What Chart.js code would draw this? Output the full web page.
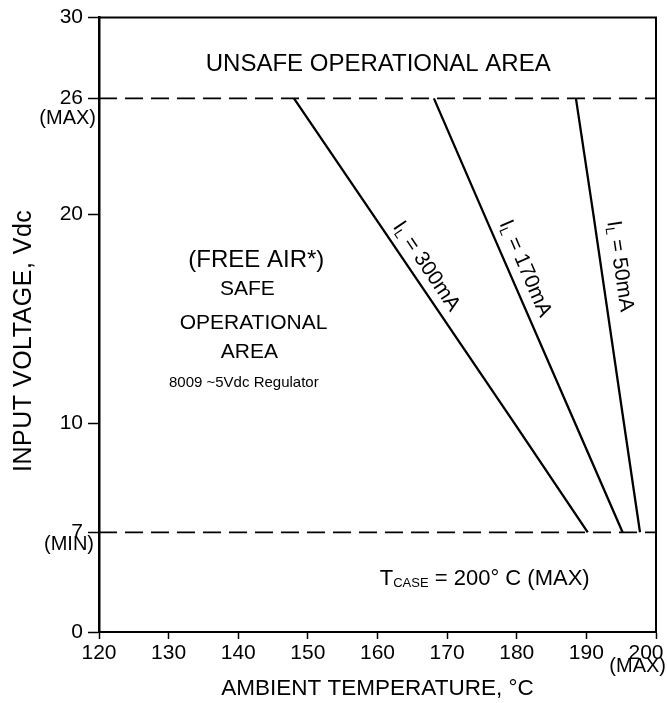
<!DOCTYPE html>
<html>
<head>
<meta charset="utf-8">
<script src="https://cdn.jsdelivr.net/npm/chart.js@4.4.1/dist/chart.umd.min.js"></script>
<style>
  html, body { margin: 0; padding: 0; background: #fff; }
</style>
</head>
<body>
<canvas id="soaChart" width="667" height="703"></canvas>
<script>
const X_TICKS = [120, 130, 140, 150, 160, 170, 180, 190, 200];
const Y_TICKS = [0, 7, 10, 20, 26, 30];
const V_MAX = 26;
const V_MIN = 7;

// ambient temp where each load line crosses 26, 20, 10 and 7 V
const CURVE_VOLTS = [26, 20, 10, 7];
const TEMP_300MA = [148.0, 159.3, 179.7, 190.2];
const TEMP_170MA = [168.1, 175.3, 188.4, 195.2];
const TEMP_50MA = [188.5, 191.0, 195.4, 197.7];
const CURVE_NAMES = ["300mA", "170mA", "50mA"];

const FONT = "'Liberation Sans', Arial, Helvetica, sans-serif";

// the original voltage axis is not evenly spaced, so map each tick to its own spot
class PiecewiseScale extends Chart.LinearScale {
      static id = "piecewise";
      static defaults = Chart.LinearScale.defaults;

      _frac(value) {
            const k = this.options.knots;
            let i = 0;
            while (i < k.length - 2 && value > k[i + 1][0]) i++;
            const [v0, f0] = k[i];
            const [v1, f1] = k[i + 1];
            return f0 + ((value - v0) / (v1 - v0)) * (f1 - f0);
      }

      getPixelForValue(value) {
            if (value === null || value === undefined) return NaN;
            return this.getPixelForDecimal(this._frac(+value));
      }

      getValueForPixel(pixel) {
            const f = this.getDecimalForPixel(pixel);
            const k = this.options.knots;
            let i = 0;
            while (i < k.length - 2 && f > k[i + 1][1]) i++;
            const [v0, f0] = k[i];
            const [v1, f1] = k[i + 1];
            return v0 + ((f - f0) / (f1 - f0)) * (v1 - v0);
      }
}
Chart.register(PiecewiseScale);

function toPoints(temps) {
      return temps.map((t, i) => ({ x: t, y: CURVE_VOLTS[i] }));
}

function limitLine(v) {
      return [
            { x: X_TICKS[0], y: v },
            { x: X_TICKS[X_TICKS.length - 1], y: v },
      ];
}

const curveSets = [TEMP_300MA, TEMP_170MA, TEMP_50MA];

// text that sits on the plot, given in axis units
const NOTES = [
      { text: "UNSAFE OPERATIONAL AREA", t: 160.1, v: 27.7, size: 24 },
      { text: "(FREE AIR*)", t: 142.6, v: 17.8, size: 24 },
      { text: "SAFE", t: 141.3, v: 16.4, size: 21 },
      { text: "OPERATIONAL", t: 142.2, v: 14.8, size: 21 },
      { text: "AREA", t: 141.6, v: 13.4, size: 21 },
      { text: "8009 ~5Vdc Regulator", t: 140.8, v: 11.95, size: 15 },
];
const CURVE_LABEL_AT = [
      { t: 167.0, v: 17.5 },
      { t: 181.2, v: 17.4 },
      { t: 194.8, v: 17.5 },
];

function drawRuns(ctx, runs, startX, y) {
      let cx = startX;
      runs.forEach((r) => {
            ctx.font = r.size + "px " + FONT;
            ctx.fillText(r.text, cx, y + (r.dy || 0));
            cx += ctx.measureText(r.text).width;
      });
}

function runsWidth(ctx, runs) {
      return runs.reduce((w, r) => {
            ctx.font = r.size + "px " + FONT;
            return w + ctx.measureText(r.text).width;
      }, 0);
}

const soaText = {
      id: "soaText",
      afterDraw(chart) {
            const { ctx, chartArea: a } = chart;
            const x = chart.scales.x;
            const y = chart.scales.y;
            ctx.save();

            // top and right edges of the frame
            ctx.strokeStyle = "#000";
            ctx.lineWidth = 2;
            ctx.beginPath();
            ctx.moveTo(a.left, a.top);
            ctx.lineTo(a.right, a.top);
            ctx.lineTo(a.right, a.bottom);
            ctx.stroke();

            ctx.fillStyle = "#000";
            ctx.textBaseline = "middle";

            // y axis title, sits a little below the middle in the original
            ctx.save();
            ctx.font = "25px " + FONT;
            ctx.letterSpacing = "0.5px";
            ctx.textAlign = "center";
            ctx.translate(24, (a.top + a.bottom) / 2 + 16);
            ctx.rotate(-Math.PI / 2);
            ctx.fillText("INPUT VOLTAGE, Vdc", 0, 0);
            ctx.restore();

            // axis extras
            ctx.font = "20px " + FONT;
            ctx.textAlign = "right";
            ctx.fillText("(MAX)", a.left - 3, y.getPixelForValue(V_MAX) + 20);
            ctx.fillText("(MIN)", a.left - 5, y.getPixelForValue(V_MIN) + 12);
            ctx.font = "21px " + FONT;
            ctx.textAlign = "center";
            ctx.fillText("200", x.getPixelForValue(200) - 10, a.bottom + 21);
            ctx.font = "20px " + FONT;
            ctx.textAlign = "right";
            ctx.fillText("(MAX)", chart.width - 1, a.bottom + 34);

            // area notes
            ctx.textAlign = "center";
            NOTES.forEach((n) => {
                  ctx.font = n.size + "px " + FONT;
                  ctx.fillText(n.text, x.getPixelForValue(n.t), y.getPixelForValue(n.v));
            });

            // T case note
            ctx.textAlign = "left";
            const caseRuns = [
                  { text: "T", size: 22 },
                  { text: "CASE", size: 13, dy: 4 },
                  { text: " = 200° C (MAX)", size: 22 },
            ];
            const cw = runsWidth(ctx, caseRuns);
            drawRuns(ctx, caseRuns, x.getPixelForValue(175.4) - cw / 2, y.getPixelForValue(3.7));

            // load line labels, rotated along each line
            curveSets.forEach((temps, i) => {
                  const x0 = x.getPixelForValue(temps[0]);
                  const y0 = y.getPixelForValue(CURVE_VOLTS[0]);
                  const x1 = x.getPixelForValue(temps[temps.length - 1]);
                  const y1 = y.getPixelForValue(CURVE_VOLTS[CURVE_VOLTS.length - 1]);
                  const ang = Math.atan2(y1 - y0, x1 - x0);
                  const runs = [
                        { text: "I", size: 21 },
                        { text: "L", size: 13, dy: 5 },
                        { text: " = " + CURVE_NAMES[i], size: 21 },
                  ];
                  const w = runsWidth(ctx, runs);
                  ctx.save();
                  ctx.translate(x.getPixelForValue(CURVE_LABEL_AT[i].t), y.getPixelForValue(CURVE_LABEL_AT[i].v));
                  ctx.rotate(ang);
                  drawRuns(ctx, runs, -w / 2, 0);
                  ctx.restore();
            });

            ctx.restore();
      },
};

const datasets = curveSets.map((temps, i) => ({
      label: CURVE_NAMES[i],
      data: toPoints(temps),
      borderColor: "#000",
      borderWidth: 2.3,
      pointRadius: 0,
      tension: 0,
}));

datasets.push(
      {
            label: "max",
            data: limitLine(V_MAX),
            borderColor: "#000",
            borderWidth: 1.7,
            borderDash: [18, 8],
            pointRadius: 0,
      },
      {
            label: "min",
            data: limitLine(V_MIN),
            borderColor: "#000",
            borderWidth: 1.7,
            borderDash: [18, 8],
            pointRadius: 0,
      }
);

new Chart(document.getElementById("soaChart"), {
      type: "line",
      data: { datasets },
      plugins: [soaText],
      options: {
            responsive: false,
            animation: false,
            layout: { padding: { top: 16, right: 11, left: 0, bottom: 0 } },
            plugins: {
                  legend: { display: false },
                  tooltip: { enabled: false },
            },
            scales: {
                  x: {
                        type: "linear",
                        position: "bottom",
                        min: X_TICKS[0],
                        max: X_TICKS[X_TICKS.length - 1],
                        afterBuildTicks: (s) => {
                              s.ticks = X_TICKS.map((v) => ({ value: v }));
                        },
                        afterFit: (s) => {
                              s.height = 71;
                              s.paddingRight = 0;
                              s.paddingLeft = 0;
                        },
                        ticks: {
                              color: "#000",
                              font: { family: FONT, size: 21 },
                              padding: 2,
                              maxRotation: 0,
                              autoSkip: false,
                              callback: (v) => (v === 200 ? "" : v),
                        },
                        grid: {
                              drawOnChartArea: false,
                              tickLength: 7,
                              tickColor: "#000",
                              tickWidth: 1.5,
                        },
                        border: { color: "#000", width: 2 },
                        title: {
                              display: true,
                              text: "AMBIENT TEMPERATURE, °C",
                              color: "#000",
                              font: { family: FONT, size: 22.5 },
                              padding: { top: 0, bottom: 1 },
                        },
                  },
                  y: {
                        type: "piecewise",
                        min: 0,
                        max: 30,
                        knots: [
                              [0, 0],
                              [7, 0.1623],
                              [10, 0.3393],
                              [20, 0.6802],
                              [26, 0.8685],
                              [30, 1],
                        ],
                        afterBuildTicks: (s) => {
                              s.ticks = Y_TICKS.map((v) => ({ value: v }));
                        },
                        afterFit: (s) => {
                              s.width = 99;
                        },
                        ticks: {
                              color: "#000",
                              font: { family: FONT, size: 21 },
                              padding: 5,
                              autoSkip: false,
                        },
                        grid: {
                              drawOnChartArea: false,
                              tickLength: 11,
                              tickColor: "#000",
                              tickWidth: 1.5,
                        },
                        border: { color: "#000", width: 2.5 },
                  },
            },
      },
});
</script>
</body>
</html>
